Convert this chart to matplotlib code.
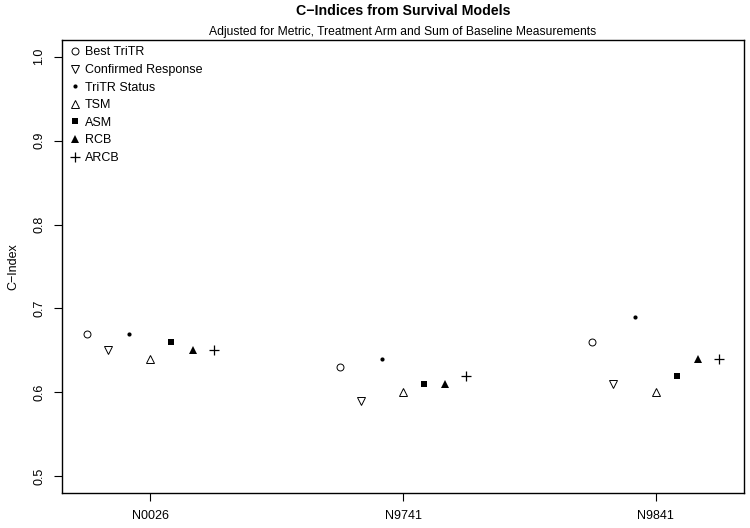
import matplotlib
matplotlib.use("Agg")
import matplotlib.pyplot as plt

plt.rcParams["font.family"] = ["Liberation Sans", "DejaVu Sans"]

# ====== DATA ======
trials = ["N0026", "N9741", "N9841"]
models = ["Best TriTR", "Confirmed Response", "TriTR Status", "TSM", "ASM", "RCB", "ARCB"]
best_tritr = [0.67, 0.63, 0.66]
confirmed_response = [0.65, 0.59, 0.61]
tritr_status = [0.67, 0.64, 0.69]
tsm = [0.64, 0.60, 0.60]
asm = [0.66, 0.61, 0.62]
rcb = [0.65, 0.61, 0.64]
arcb = [0.65, 0.62, 0.64]
series = [best_tritr, confirmed_response, tritr_status, tsm, asm, rcb, arcb]

# marker styles (R pch 1, 6, 20, 2, 15, 17, 3)
styles = [
    dict(marker="o", mfc="white", mec="black", ms=5, mew=0.7),
    dict(marker="v", mfc="white", mec="black", ms=6, mew=0.7),
    dict(marker="o", mfc="black", mec="black", ms=3, mew=0),
    dict(marker="^", mfc="white", mec="black", ms=6, mew=0.7),
    dict(marker="s", mfc="black", mec="black", ms=5, mew=0),
    dict(marker="^", mfc="black", mec="black", ms=6, mew=0),
    dict(marker="+", mfc="black", mec="black", ms=7.5, mew=0.9),
]

# ====== PLOT ======
fig = plt.figure(figsize=(7.5, 5.28), dpi=100)
ax = fig.add_axes([0.0827, 0.0663, 0.9093, 0.8579])

for j, (vals, name, st) in enumerate(zip(series, models, styles)):
    xs = [i + 1 + (j - 3) / 12 for i in range(len(trials))]
    ax.plot(xs, vals, linestyle="none", label=name, **st)

ax.set_xlim(0.65, 3.35)
ax.set_ylim(0.48, 1.02)
ax.set_xticks([1, 2, 3])
ax.set_xticklabels(trials)
ax.set_yticks([0.5, 0.6, 0.7, 0.8, 0.9, 1.0])
ax.set_yticklabels(["0.5", "0.6", "0.7", "0.8", "0.9", "1.0"], rotation=90, va="center")
ax.tick_params(labelsize=9, length=6, width=0.8, pad=6)
for s in ax.spines.values():
    s.set_linewidth(1.0)
ax.set_ylabel("C\u2212Index", fontsize=9, labelpad=10)

# title centred over the plot region, like base R
cx = 0.0827 + 0.9093 / 2
fig.text(cx, 0.979, "C\u2212Indices from Survival Models", ha="center", va="center",
         fontsize=10.2, fontweight="bold")
fig.text(cx, 0.939, "Adjusted for Metric, Treatment Arm and Sum of Baseline Measurements",
         ha="center", va="center", fontsize=8.7)

ax.legend(loc="upper left", frameon=False, fontsize=9, handlelength=1.0,
          handletextpad=0.35, labelspacing=0.45, borderaxespad=0.2,
          borderpad=0.3, numpoints=1)

plt.savefig("out.png", dpi=100)
